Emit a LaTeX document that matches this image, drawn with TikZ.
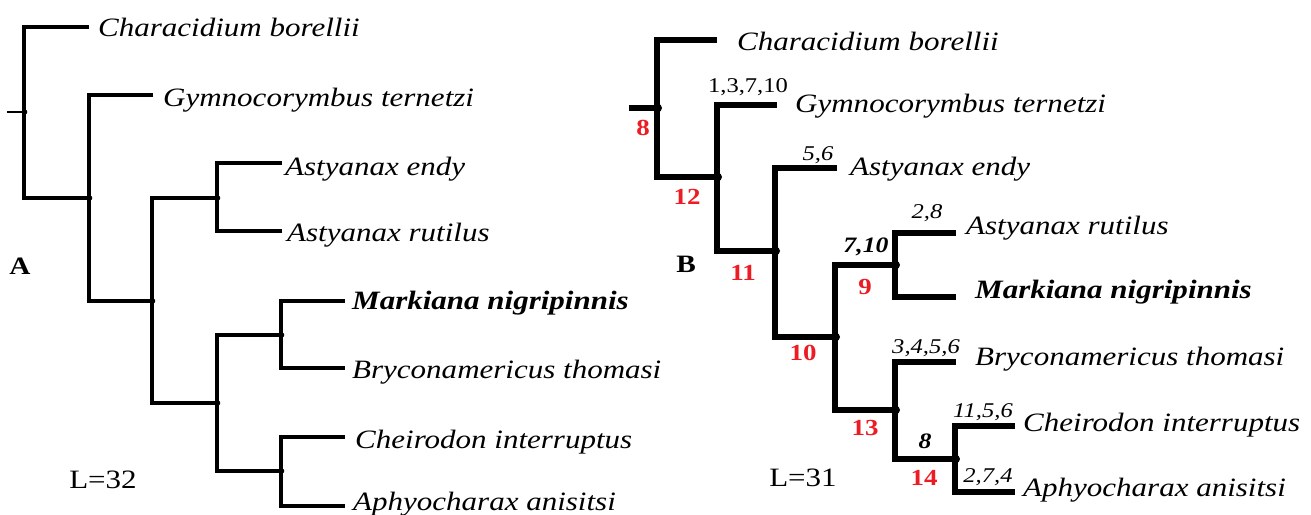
\documentclass[tikz,border=0pt]{standalone}
\usepackage{fontspec}
\setmainfont{Liberation Serif}[FakeStretch=1.17]
\usepackage{tikz}
\usetikzlibrary{positioning}
\definecolor{IndexRed}{RGB}{237,28,36}
\tikzstyle{branchA} = [line width=3.2pt, black, line cap=butt]
\tikzstyle{branchB} = [line width=5.6pt, black, line cap=butt]
\tikzstyle{taxon} = [anchor=base west, inner sep=0pt, font=\fontsize{26.5}{30}\selectfont\itshape]
\tikzstyle{charlist} = [inner sep=0pt, font=\fontsize{21}{24}\selectfont\itshape]
\tikzstyle{redindex} = [inner sep=0pt, text=IndexRed, font=\fontsize{23}{26}\selectfont\bfseries]
\tikzstyle{panel} = [inner sep=0pt, font=\fontsize{25}{28}\selectfont\bfseries]
\tikzstyle{score} = [inner sep=0pt, font=\fontsize{26.5}{30}\selectfont]

\begin{document}
\begin{tikzpicture}[x=1pt, y=-1pt]
\useasboundingbox (0,0) rectangle (1311,514);

% tree A
\coordinate (aStub) at (7,112);
\coordinate (a0) at (24,112);
\coordinate (a1) at (89,198);
\coordinate (a2) at (152,301);
\coordinate (a3) at (217,198);
\coordinate (a4) at (217,403);
\coordinate (a5) at (281,335);
\coordinate (a6) at (281,471);
\coordinate (aChar) at (89,27);
\coordinate (aGymn) at (153,95);
\coordinate (aEndy) at (282,163);
\coordinate (aRuti) at (282,231);
\coordinate (aMark) at (345,301);
\coordinate (aBryc) at (345,368);
\coordinate (aChei) at (345,437);
\coordinate (aAphy) at (345,506);

\draw[branchA, line width=2.5pt] (aStub) -- (a0);
\draw[branchA] (aChar) -| (a0) |- (a1);
\draw[branchA] (aGymn) -| (a1) |- (a2);
\draw[branchA] (a3) -| (a2) |- (a4);
\draw[branchA] (aEndy) -| (a3) |- (aRuti);
\draw[branchA] (a5) -| (a4) |- (a6);
\draw[branchA] (aMark) -| (a5) |- (aBryc);
\draw[branchA] (aChei) -| (a6) |- (aAphy);
\foreach \n in {a0,a1,a2,a3,a4,a5,a6}
  \fill ([xshift=0.8pt]\n) circle (2.5pt);

\node[taxon] (tAChar) at (98,36) {Characidium borellii};
\node[taxon] (tAGymn) at (163,106) {Gymnocorymbus ternetzi};
\node[taxon] (tAEndy) at (285,175) {Astyanax endy};
\node[taxon] (tARuti) at (287,241) {Astyanax rutilus};
\node[taxon, font=\fontsize{26.5}{30}\selectfont\itshape\bfseries] (tAMark) at (352,309) {Markiana nigripinnis};
\node[taxon] (tABryc) at (352,378) {Bryconamericus thomasi};
\node[taxon] (tAChei) at (355,448) {Cheirodon interruptus};
\node[taxon] (tAAphy) at (353,510) {Aphyocharax anisitsi};

\node[panel] (panelA) at (20,266) {A};
\node[score] (scoreA) at (103,480) {L=32};

% tree B
\coordinate (bStub) at (629,108);
\coordinate (b0) at (657,108);
\coordinate (b1) at (717,177);
\coordinate (b2) at (775,251);
\coordinate (b3) at (835,337);
\coordinate (b4) at (895,265);
\coordinate (b5) at (895,410);
\coordinate (b6) at (955,459);
\coordinate (bChar) at (717,40);
\coordinate (bGymn) at (777,105);
\coordinate (bEndy) at (837,168);
\coordinate (bRuti) at (956,233);
\coordinate (bMark) at (956,297);
\coordinate (bBryc) at (956,362);
\coordinate (bChei) at (1015,426);
\coordinate (bAphy) at (1015,492);

\draw[branchB] (bStub) -- (b0);
\draw[branchB] (bChar) -| (b0) |- (b1);
\draw[branchB] (bGymn) -| (b1) |- (b2);
\draw[branchB] (bEndy) -| (b2) |- (b3);
\draw[branchB] (b4) -| (b3) |- (b5);
\draw[branchB] (bRuti) -| (b4) |- (bMark);
\draw[branchB] (bBryc) -| (b5) |- (b6);
\draw[branchB] (bChei) -| (b6) |- (bAphy);
\foreach \n in {b0,b1,b2,b3,b4,b5,b6}
  \fill ([xshift=0.8pt]\n) circle (4.2pt);

\node[taxon] (tBChar) at (737,50) {Characidium borellii};
\node[taxon] (tBGymn) at (795,112) {Gymnocorymbus ternetzi};
\node[taxon] (tBEndy) at (850,175) {Astyanax endy};
\node[taxon] (tBRuti) at (966,234) {Astyanax rutilus};
\node[taxon, font=\fontsize{26.5}{30}\selectfont\itshape\bfseries] (tBMark) at (975,298) {Markiana nigripinnis};
\node[taxon] (tBBryc) at (975,365) {Bryconamericus thomasi};
\node[taxon] (tBChei) at (1023,431) {Cheirodon interruptus};
\node[taxon] (tBAphy) at (1023,496) {Aphyocharax anisitsi};

% character changes
\node[charlist, font=\fontsize{21}{24}\selectfont] (cGymn) at (748,87) {1,3,7,10};
\node[charlist] (cEndy) at (818,155) {5,6};
\node[charlist] (cRuti) at (927,213) {2,8};
\node[charlist, font=\fontsize{22}{24}\selectfont\itshape\bfseries] (cB4) at (866,247) {7,10};
\node[charlist, font=\fontsize{22}{24}\selectfont\itshape\bfseries] (cB6) at (925,441) {8};
\node[charlist] (cBryc) at (926,348) {3,4,5,6};
\node[charlist] (cChei) at (983,412) {11,5,6};
\node[charlist] (cAphy) at (988,477) {2,7,4};

% node numbers
\node[redindex] (n8) at (643,128) {8};
\node[redindex] (n12) at (687,197) {12};
\node[redindex] (n11) at (743,273) {11};
\node[redindex] (n10) at (803,353) {10};
\node[redindex] (n9) at (865,287) {9};
\node[redindex] (n13) at (865,428) {13};
\node[redindex] (n14) at (924,478) {14};

\node[panel] (panelB) at (686,264) {B};
\node[score] (scoreB) at (803,478) {L=31};
\end{tikzpicture}
\end{document}
